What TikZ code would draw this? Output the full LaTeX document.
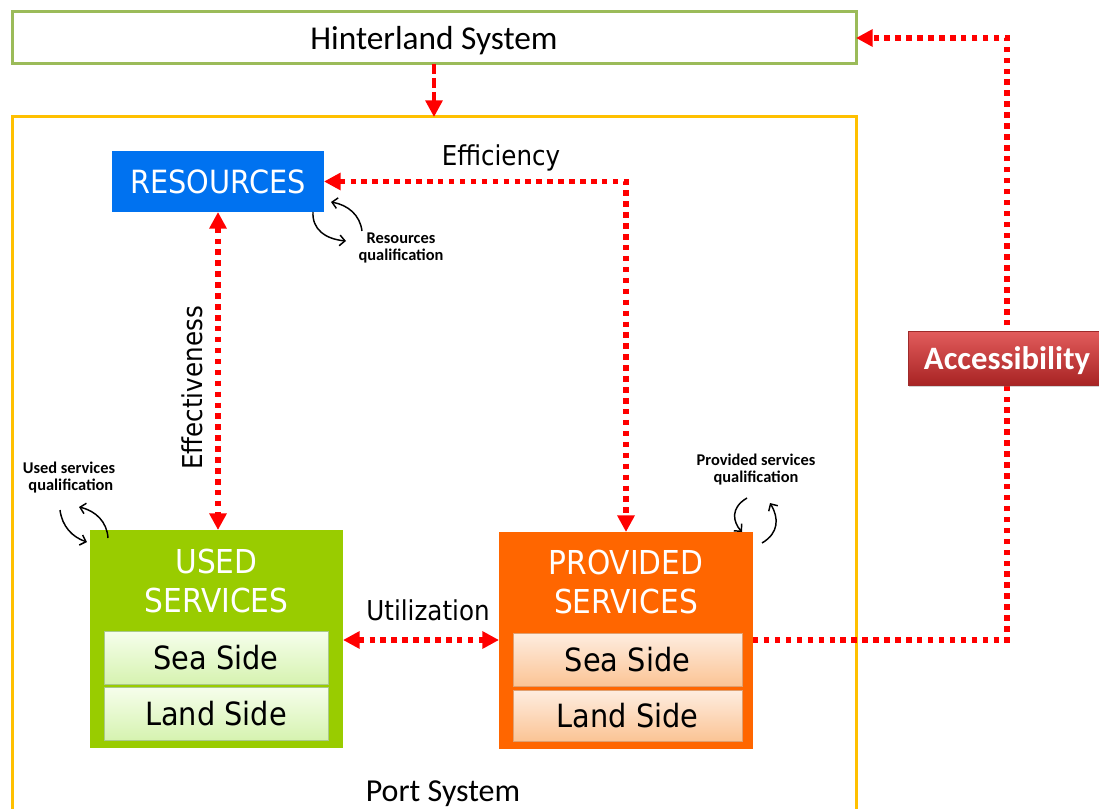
\documentclass[tikz,border=0pt]{standalone}
\usepackage{fontspec}
\setmainfont{Carlito}
\newfontfamily\tah[FakeStretch=0.9]{DejaVu Sans}
\usetikzlibrary{arrows.meta,shadows}

\definecolor{hintgreen}{HTML}{9BBB59}
\definecolor{portyellow}{HTML}{FFC000}
\definecolor{resblue}{HTML}{0072F0}
\definecolor{usedgreen}{HTML}{99CC00}
\definecolor{provorange}{HTML}{FF6600}
\definecolor{arrred}{HTML}{FF0000}
\definecolor{subgreentop}{HTML}{F6FEEC}
\definecolor{subgreenbot}{HTML}{D6F3B0}
\definecolor{subgreenline}{HTML}{A9C98A}
\definecolor{suborangetop}{HTML}{FEEDE0}
\definecolor{suborangebot}{HTML}{FBC495}
\definecolor{suborangeline}{HTML}{E0A070}
\definecolor{acctop}{HTML}{E25C5C}
\definecolor{accbot}{HTML}{A82424}
\definecolor{accline}{HTML}{9E2A2A}

\begin{document}
\begin{tikzpicture}[x=0.75pt,y=-0.75pt,
  box/.style={rectangle, inner sep=0pt, outer sep=0pt},
  bigtext/.style={font=\tah\fontsize{24.7}{29}\selectfont, text=white, align=center},
  subtext/.style={font=\tah\fontsize{24}{28}\selectfont, text=black},
  lbltext/.style={font=\tah\fontsize{20.5}{24}\selectfont, text=black},
  qtext/.style={font=\bfseries\fontsize{12.3}{12.75}\selectfont, align=center, inner sep=0pt},
  subgreen/.style={box, top color=subgreentop, bottom color=subgreenbot, draw=subgreenline, line width=0.6pt,
     drop shadow={shadow xshift=0.8pt, shadow yshift=-1pt, opacity=0.35}},
  suborange/.style={box, top color=suborangetop, bottom color=suborangebot, draw=suborangeline, line width=0.6pt,
     drop shadow={shadow xshift=0.8pt, shadow yshift=-1pt, opacity=0.35}},
  redarrow/.style={draw=arrred, line width=3.9pt, dash pattern=on 4.1pt off 4.1pt},
  reddash/.style={draw=arrred, line width=3pt, dash pattern=on 7.5pt off 3pt},
  >={Triangle[length=12.5pt,width=12.5pt]},
  qarrow/.style={draw=black, line width=1.1pt, -{Straight Barb[length=4pt,width=8pt]}}
]
\useasboundingbox (0,0) rectangle (1099,809);

% outer system boxes
\node[box, draw=hintgreen, line width=2.25pt, minimum width=633pt, minimum height=39pt] (hint) at (434,38) {};
\node[font=\fontsize{25}{30}\selectfont] (hintlbl) at (434,41) {Hinterland System};
\node[box, draw=portyellow, line width=2.25pt, minimum width=633pt, minimum height=540pt] (port) at (434,477) {};
\node[font=\fontsize{24}{28}\selectfont] (portlbl) at (443,794) {Port System};

% main boxes
\node[box, fill=resblue, minimum width=159pt, minimum height=45.75pt,
      font=\tah\fontsize{24}{28}\selectfont, text=white] (res) at (218,181.5) {RESOURCES};
\node[box, fill=usedgreen, minimum width=189.75pt, minimum height=163.5pt] (used) at (216.5,639) {};
\node[box, fill=provorange, minimum width=190.5pt, minimum height=162.75pt] (prov) at (626,640.5) {};
\node[bigtext] (usedlbl) at (216.5,581) {USED\\SERVICES};
\node[bigtext] (provlbl) at (626,582) {PROVIDED\\SERVICES};

% sub boxes
\node[subgreen, minimum width=168pt, minimum height=39.75pt, subtext] (usea) at (216,657.5) {Sea Side};
\node[subgreen, minimum width=168pt, minimum height=39.75pt, subtext] (uland) at (216,713.5) {Land Side};
\node[suborange, minimum width=171.75pt, minimum height=39.75pt, subtext] (psea) at (627.5,659.5) {Sea Side};
\node[suborange, minimum width=171.75pt, minimum height=38.25pt, subtext] (pland) at (627.5,715.5) {Land Side};

% connectors
\draw[reddash,->] (hint.south) -- (hint.south |- port.north);
\draw[redarrow,<->] (res.east) -| (prov.north);
\draw[redarrow,<->] (res.south) -- (res.south |- used.north);
\draw[redarrow,<->] (used.east |- 0,640) -- (prov.west |- 0,640);
\coordinate (accpt) at (1007,358);
\draw[redarrow,->] (prov.east |- 0,640) -| (accpt) |- (hint.east);

% accessibility
\node[box, top color=acctop, bottom color=accbot, draw=accline, line width=0.6pt,
      minimum width=148.5pt, minimum height=40.5pt,
      drop shadow={shadow xshift=1pt, shadow yshift=-1.2pt, opacity=0.35}] (acc) at (accpt) {};
\node[font=\bfseries\fontsize{24.5}{28}\selectfont, text=white] (acclbl) at (1007,361) {Accessibility};

% connector labels
\node[lbltext] (efflbl) at (501,158) {Efficiency};
\node[lbltext, rotate=90] (effectlbl) at (192,388) {Effectiveness};
\node[lbltext] (utillbl) at (428,610) {Utilization};

% qualification labels
\node[qtext] (resq) at (401,248) {Resources\\qualification};
\node[qtext] (usedq) at (69,478) {Used services\\\ qualification};
\node[qtext] (provq) at (756,470) {Provided services\\qualification};

% qualification arrows
\draw[qarrow] (313,212) .. controls (312,229) and (325,239) .. (346,241);
\draw[qarrow] (362,231) .. controls (360,215) and (348,205) .. (331,202);
\draw[qarrow] (60,510) .. controls (62,526) and (72,537) .. (87,542);
\draw[qarrow] (108,538) .. controls (107,522) and (96,511) .. (79,507);
\draw[qarrow] (747,498) .. controls (730,508) and (733,522) .. (742,532);
\draw[qarrow] (762,543) .. controls (779,533) and (779,518) .. (770,503);
\end{tikzpicture}
\end{document}
